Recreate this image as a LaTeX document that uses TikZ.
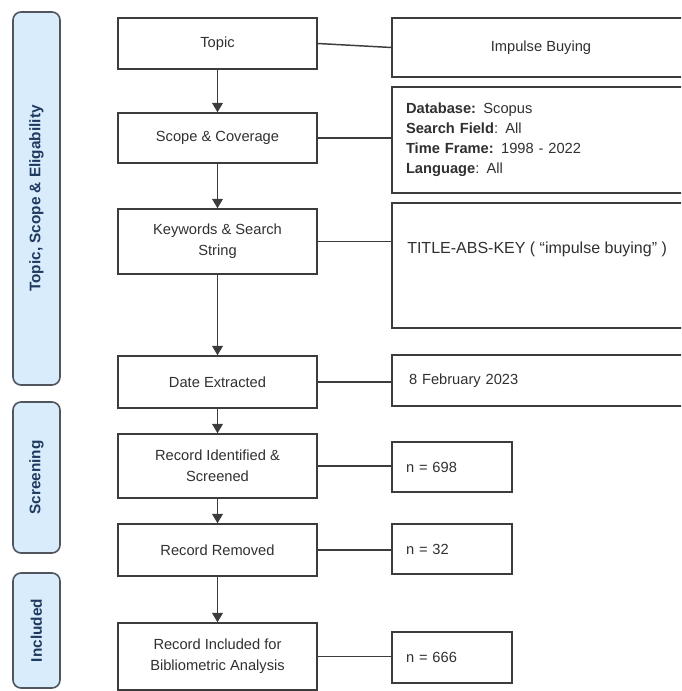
\documentclass[tikz,border=0pt]{standalone}
\usepackage{fontspec}
\setmainfont{Liberation Sans}
\usetikzlibrary{arrows.meta}
\definecolor{panelfill}{HTML}{D9ECFB}
\definecolor{paneldraw}{HTML}{50555E}
\definecolor{paneltext}{HTML}{1F3A60}
\definecolor{boxdraw}{HTML}{3C3C3C}
\definecolor{txt}{HTML}{303030}
\begin{document}
\begin{tikzpicture}[x=0.75pt,y=-0.75pt,
  panel/.style={rotate=90, draw=paneldraw, fill=panelfill, line width=1.2pt,
    rounded corners=6pt, minimum height=35.25pt, inner sep=0pt,
    font=\fontsize{11.5}{14}\selectfont\bfseries, text=paneltext},
  mainbox/.style={draw=boxdraw, line width=1.1pt, minimum width=149.25pt,
    inner sep=2pt, align=center, font=\fontsize{11}{15.5}\selectfont, text=txt},
  infobox/.style={draw=boxdraw, line width=1.1pt, minimum width=223.5pt,
    inner ysep=0pt, font=\fontsize{11}{15}\selectfont, text=txt},
  nbox/.style={draw=boxdraw, line width=1.1pt, minimum width=90pt,
    inner xsep=10.5pt, inner ysep=0pt, text width=69pt, align=left,
    font=\fontsize{11}{15}\selectfont, text=txt},
  flow/.style={draw=boxdraw, line width=1.1pt, -{Triangle[length=7pt,width=8pt]}},
  link/.style={draw=boxdraw, line width=1.1pt}
]
\useasboundingbox (0,0) rectangle (681,691);
\clip (0,0) rectangle (681,691);

% side panels
\node[panel, minimum width=279.75pt] (p1) at (36.5,198.5) {Topic, Scope \& Eligability};
\node[panel, minimum width=113.25pt] (p2) at (36.5,477.5) {Screening};
\node[panel, minimum width=86.25pt] (p3) at (36.5,630.5) {Included};

% main column
\node[mainbox, minimum height=38.25pt] (topic) at (217.5,43.5) {Topic};
\node[mainbox, minimum height=37.5pt] (scope) at (217.5,138) {Scope \& Coverage};
\node[mainbox, minimum height=48.75pt] (kw) at (217.5,241.5) {Keywords \& Search\\String};
\node[mainbox, minimum height=39pt] (date) at (217.5,382) {Date Extracted};
\node[mainbox, minimum height=48pt] (recid) at (217.5,466) {Record Identified \&\\Screened};
\node[mainbox, minimum height=39pt] (recrem) at (217.5,550) {Record Removed};
\node[mainbox, minimum height=50.25pt] (recinc) at (217.5,656.5) {Record Included for\\Bibliometric Analysis};

% right column
\node[infobox, minimum height=44.25pt, align=center] (impulse) at (541,47.5) {Impulse Buying};
\node[infobox, minimum height=79.5pt, inner xsep=10.5pt, text width=202.5pt, align=left] (scopedet) at (541,140)
  {\textbf{Database:} Scopus\\\textbf{Search Field}: All\\\textbf{Time Frame:} 1998 - 2022\\\textbf{Language}: All};
\node[infobox, minimum height=93.75pt] (title) at (541,265.5) {};
\node[anchor=base west, inner sep=0pt, font=\fontsize{12}{14}\selectfont, text=txt] (titletxt) at (407,253)
  {TITLE-ABS-KEY ( ``impulse buying'' )};
\node[infobox, minimum height=38.25pt, inner xsep=12.75pt, text width=198pt, align=left] (feb) at (541,380.5) {8 February 2023};

\node[nbox, minimum height=37.5pt] (n1) at (452,467) {n = 698};
\node[nbox, minimum height=37.5pt] (n2) at (452,549) {n = 32};
\node[nbox, minimum height=38.25pt] (n3) at (452,657.5) {n = 666};

% flow arrows
\draw[flow] (topic) -- (scope);
\draw[flow] (scope) -- (kw);
\draw[flow] (kw) -- (date);
\draw[flow] (date) -- (recid);
\draw[flow] (recid) -- (recrem);
\draw[flow] (recrem) -- (recinc);

% links
\draw[link] (topic.east) -- (impulse.west);
\draw[link] (scope.east) -- (scope.east -| scopedet.west);
\draw[link] (kw.east) -- (kw.east -| title.west);
\draw[link] (date.east) -- (date.east -| feb.west);
\draw[link] (recid.east) -- (recid.east -| n1.west);
\draw[link] (recrem.east) -- (recrem.east -| n2.west);
\draw[link] (recinc.east) -- (recinc.east -| n3.west);
\end{tikzpicture}
\end{document}
